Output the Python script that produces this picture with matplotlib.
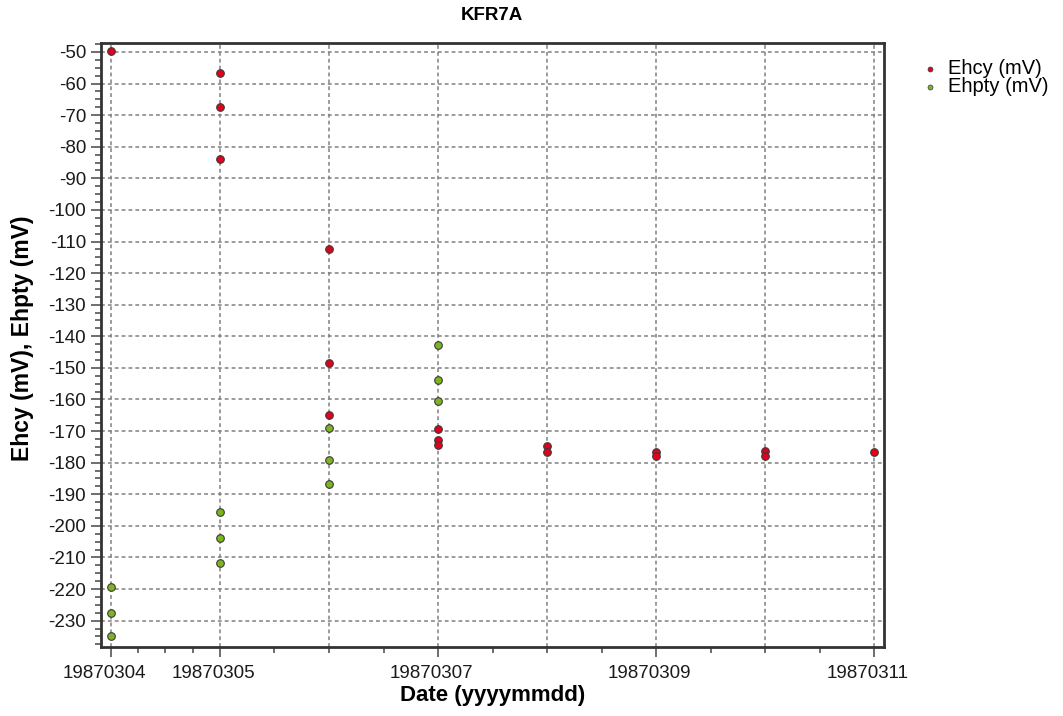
import matplotlib
matplotlib.use("Agg")
import matplotlib.pyplot as plt
import matplotlib.dates as mdates
import matplotlib.transforms as mtransforms
from matplotlib.ticker import FixedLocator, MultipleLocator
import pandas as pd

plt.rcParams['font.family'] = ['Liberation Sans', 'DejaVu Sans']
plt.rcParams['axes.unicode_minus'] = False

# Redox potential readings, borehole section KFR7A
ehcy_dates = ["19870304", "19870305", "19870305", "19870305",
              "19870306", "19870306", "19870306",
              "19870307", "19870307", "19870307",
              "19870308", "19870308", "19870309", "19870309",
              "19870310", "19870310", "19870311"]
ehcy_mv = [-49.8, -56.8, -67.4, -84.0,
           -112.5, -148.6, -165.0,
           -169.5, -172.7, -174.5,
           -174.6, -176.5, -176.6, -177.8,
           -176.4, -177.8, -176.5]

ehpty_dates = ["19870304", "19870304", "19870304",
               "19870305", "19870305", "19870305",
               "19870306", "19870306", "19870306",
               "19870307", "19870307", "19870307"]
ehpty_mv = [-219.5, -227.7, -234.8,
            -195.5, -203.8, -211.9,
            -168.9, -179.0, -186.6,
            -142.9, -153.7, -160.6]

labelled_days = ["19870304", "19870305", "19870307", "19870309", "19870311"]
grid_days = ["19870304", "19870305", "19870306", "19870307",
             "19870308", "19870309", "19870310", "19870311"]

def to_num(days):
    return mdates.date2num(pd.to_datetime(days, format="%Y%m%d"))

red = "#e3001b"
green = "#7cb51f"
edge = "#3a3a3a"

fig = plt.figure(figsize=(10.63, 7.16), dpi=100)
ax = fig.add_axes([0.0947, 0.0968, 0.7369, 0.8436])

ax.scatter(to_num(ehcy_dates), ehcy_mv, s=30, color=red, edgecolors=edge,
           linewidths=0.8, zorder=3, label="Ehcy (mV)")
ax.scatter(to_num(ehpty_dates), ehpty_mv, s=30, color=green, edgecolors=edge,
           linewidths=0.8, zorder=3, label="Ehpty (mV)")

start = to_num(["19870304"])[0]
ax.set_xlim(start - 0.094, start + 7.09)
ax.set_ylim(-238.25, -47.06)

# x ticks: labelled days as major ticks, finer marks in between
major_x = to_num(labelled_days)
minor_offsets = [0.25, 0.5, 0.75, 1.5, 2.0, 2.5, 3.5, 4.0, 4.5, 5.5, 6.0, 6.5]
ax.xaxis.set_major_locator(FixedLocator(major_x))
ax.xaxis.set_minor_locator(FixedLocator([start + o for o in minor_offsets]))
ax.xaxis.set_major_formatter(mdates.DateFormatter("%Y%m%d"))

ax.yaxis.set_major_locator(MultipleLocator(10))
ax.yaxis.set_minor_locator(MultipleLocator(2.5))

grid_style = dict(color="#808080", linewidth=1.1, linestyle=(0, (2.5, 2.0)), zorder=1)
for v in to_num(grid_days):
    ax.axvline(v, **grid_style)
for v in range(-230, -49, 10):
    ax.axhline(v, **grid_style)

ax.tick_params(axis="both", which="major", length=7, width=1.2, color="#555555",
               labelsize=13.5, labelcolor="#1a1a1a", direction="out")
ax.tick_params(axis="both", which="minor", length=4, width=1.2, color="#555555",
               direction="out")
ax.tick_params(axis="x", which="major", pad=6)

# date labels sit slightly left of their ticks
shift = mtransforms.ScaledTranslation(-7 / 100, 0, fig.dpi_scale_trans)
for lbl in ax.get_xticklabels():
    lbl.set_transform(lbl.get_transform() + shift)

for sp in ax.spines.values():
    sp.set_linewidth(2.0)
    sp.set_color("#333333")

ax.set_title("KFR7A", fontsize=13.5, fontweight="bold", pad=16)
ax.set_xlabel("Date (yyyymmdd)", fontsize=16, fontweight="bold", labelpad=2)
ax.set_ylabel("Ehcy (mV), Ehpty (mV)", fontsize=16.5, fontweight="bold")
ax.yaxis.set_label_coords(-0.085, 0.5103)

leg = ax.legend(loc="upper left", bbox_to_anchor=(922 / 1063, 1 - 59 / 716),
                bbox_transform=fig.transFigure, frameon=False,
                fontsize=14.5, markerscale=0.65, handletextpad=0.5,
                borderaxespad=0, borderpad=0, labelspacing=-0.05, handlelength=0.8)
for h in leg.legend_handles:
    h.set_linewidth(0.5)

fig.savefig("out.png", dpi=100)
